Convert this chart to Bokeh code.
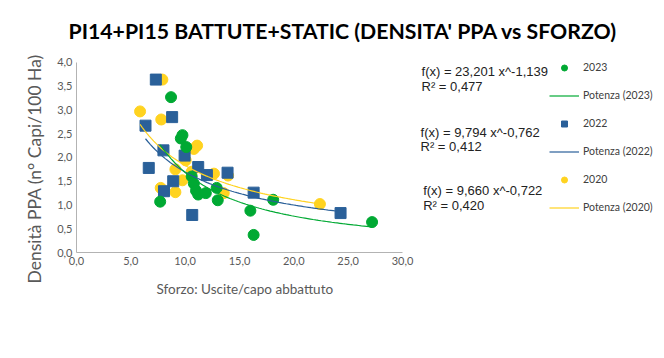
import numpy as np
from bokeh.plotting import figure
from bokeh.models import Range1d, Label, Legend, LegendItem, FixedTicker, Title
from bokeh.embed import file_html
from bokeh.resources import INLINE

# ---------------- data ----------------
title_text = "PI14+PI15 BATTUTE+STATIC (DENSITA' PPA vs SFORZO)"
x_title = "Sforzo: Uscite/capo abbattuto"
y_title = "Densità  PPA (n° Capi/100 Ha)"

x_ticks = [0, 5, 10, 15, 20, 25, 30]
x_tick_labels = ["0,0", "5,0", "10,0", "15,0", "20,0", "25,0", "30,0"]
y_ticks = [0, 0.5, 1, 1.5, 2, 2.5, 3, 3.5, 4]
y_tick_labels = ["0,0", "0,5", "1,0", "1,5", "2,0", "2,5", "3,0", "3,5", "4,0"]

series_names = ["2023", "2022", "2020"]
trend_names = ["Potenza (2023)", "Potenza (2022)", "Potenza (2020)"]

x_2023 = [8.7, 9.6, 9.75, 10.1, 7.7, 10.6, 10.8, 11.0, 11.2, 11.9, 12.9, 13.0, 16.0, 16.3, 18.1, 27.2]
y_2023 = [3.27, 2.40, 2.47, 2.22, 1.07, 1.60, 1.45, 1.30, 1.22, 1.25, 1.36, 1.10, 0.88, 0.37, 1.11, 0.64]

x_2022 = [7.3, 8.8, 6.35, 8.0, 9.95, 6.65, 11.2, 12.0, 13.9, 8.9, 8.05, 10.65, 16.3, 24.3]
y_2022 = [3.64, 2.85, 2.67, 2.15, 2.04, 1.78, 1.80, 1.63, 1.68, 1.50, 1.29, 0.79, 1.26, 0.83]

x_2020 = [7.9, 5.85, 7.8, 11.1, 10.8, 10.05, 9.1, 12.65, 7.75, 9.1, 9.75, 13.55, 13.95, 22.4, 10.6]
y_2020 = [3.64, 2.97, 2.80, 2.25, 2.18, 1.94, 1.75, 1.66, 1.36, 1.27, 1.52, 1.25, 1.62, 1.02, 1.70]

coef_a = [23.201, 9.794, 9.660]
coef_b = [-1.139, -0.762, -0.722]
eq_texts = ["f(x) = 23,201 x^-1,139", "f(x) = 9,794 x^-0,762", "f(x) = 9,660 x^-0,722"]
r2_texts = ["R² = 0,477", "R² = 0,412", "R² = 0,420"]

# ---------------- styles ----------------
colors = ["#00a933", "#2a6099", "#ffd320"]
markers = ["circle", "square", "circle"]
xs = [x_2023, x_2022, x_2020]
ys = [y_2023, y_2022, y_2020]

p = figure(width=664, height=358,
           x_range=Range1d(0, 54.11), y_range=Range1d(0, 4.084),
           output_backend="svg", toolbar_location=None,
           min_border_left=76, min_border_right=0,
           min_border_top=58, min_border_bottom=106)

p.title = Title(text=title_text, text_font="Lato", text_font_size="21.25px",
                text_font_style="bold", text_color="#000000",
                align="left", offset=-8, standoff=30)

p.xgrid.visible = False
p.ygrid.visible = False
p.outline_line_color = None
p.background_fill_color = "white"
p.border_fill_color = "white"

for ax, ticks, labels, bnds in ((p.xaxis[0], x_ticks, x_tick_labels, (0, 30)),
                                (p.yaxis[0], y_ticks, y_tick_labels, (0, 4))):
    ax.ticker = FixedTicker(ticks=ticks)
    ax.major_label_overrides = {float(t): l for t, l in zip(ticks, labels)}
    ax.bounds = bnds
    ax.axis_line_color = "#b3b3b3"
    ax.axis_line_width = 1
    ax.major_tick_line_color = None
    ax.minor_tick_line_color = None
    ax.major_tick_out = 0
    ax.major_tick_in = 0
    ax.minor_tick_out = 0
    ax.minor_tick_in = 0
    ax.major_label_text_font = "Lato"
    ax.major_label_text_font_size = "11px"
    ax.major_label_text_color = "#595959"
    ax.major_label_standoff = 4

# axis titles as side titles
p.add_layout(Title(text=x_title, text_font="Lato", text_font_size="13.5px",
                   text_font_style="normal", text_color="#595959",
                   align="left", offset=80, standoff=22), "below")
p.add_layout(Title(text=y_title, text_font="Lato", text_font_size="17.5px",
                   text_font_style="normal", text_color="#595959",
                   align="left", offset=-31, standoff=20), "left")

# scatter (draw 2020 first, then 2022, then 2023)
scatter_r = {}
for i in (2, 1, 0):
    scatter_r[i] = p.scatter(xs[i], ys[i], marker=markers[i], size=11,
                             fill_color=colors[i], line_color=colors[i])

# trend lines from the chart's own power-law coefficients
line_r = {}
for i in (2, 1, 0):
    xx = np.linspace(min(xs[i]), max(xs[i]), 80)
    yy = coef_a[i] * xx ** coef_b[i]
    line_r[i] = p.line(xx, yy, line_color=colors[i], line_width=1.2)

# legend
items = []
for i in range(3):
    items.append(LegendItem(label=series_names[i], renderers=[scatter_r[i]]))
    items.append(LegendItem(label=trend_names[i], renderers=[line_r[i]]))
legend = Legend(items=items, location=(473, 36), padding=0, margin=0,
                glyph_width=30, glyph_height=15, label_height=18,
                spacing=10, label_standoff=4,
                label_text_font="Lato", label_text_font_size="10.5px",
                label_text_color="#404040",
                border_line_color=None, background_fill_alpha=0)
p.add_layout(legend)

# equation labels (data coordinates in the empty right part of the frame)
eq_pos = [(31.75, 3.817, 3.501), (31.66, 2.533, 2.238), (31.9, 1.305, 0.989)]
for i in range(3):
    x0, ya, yb = eq_pos[i]
    for txt, yv in ((eq_texts[i], ya), (r2_texts[i], yb)):
        p.add_layout(Label(x=x0, y=yv, text=txt, text_font="Liberation Sans",
                           text_font_size="13px", text_color="#222222",
                           text_baseline="middle", text_align="left"))

open("out.html", "w").write(file_html(p, INLINE))
